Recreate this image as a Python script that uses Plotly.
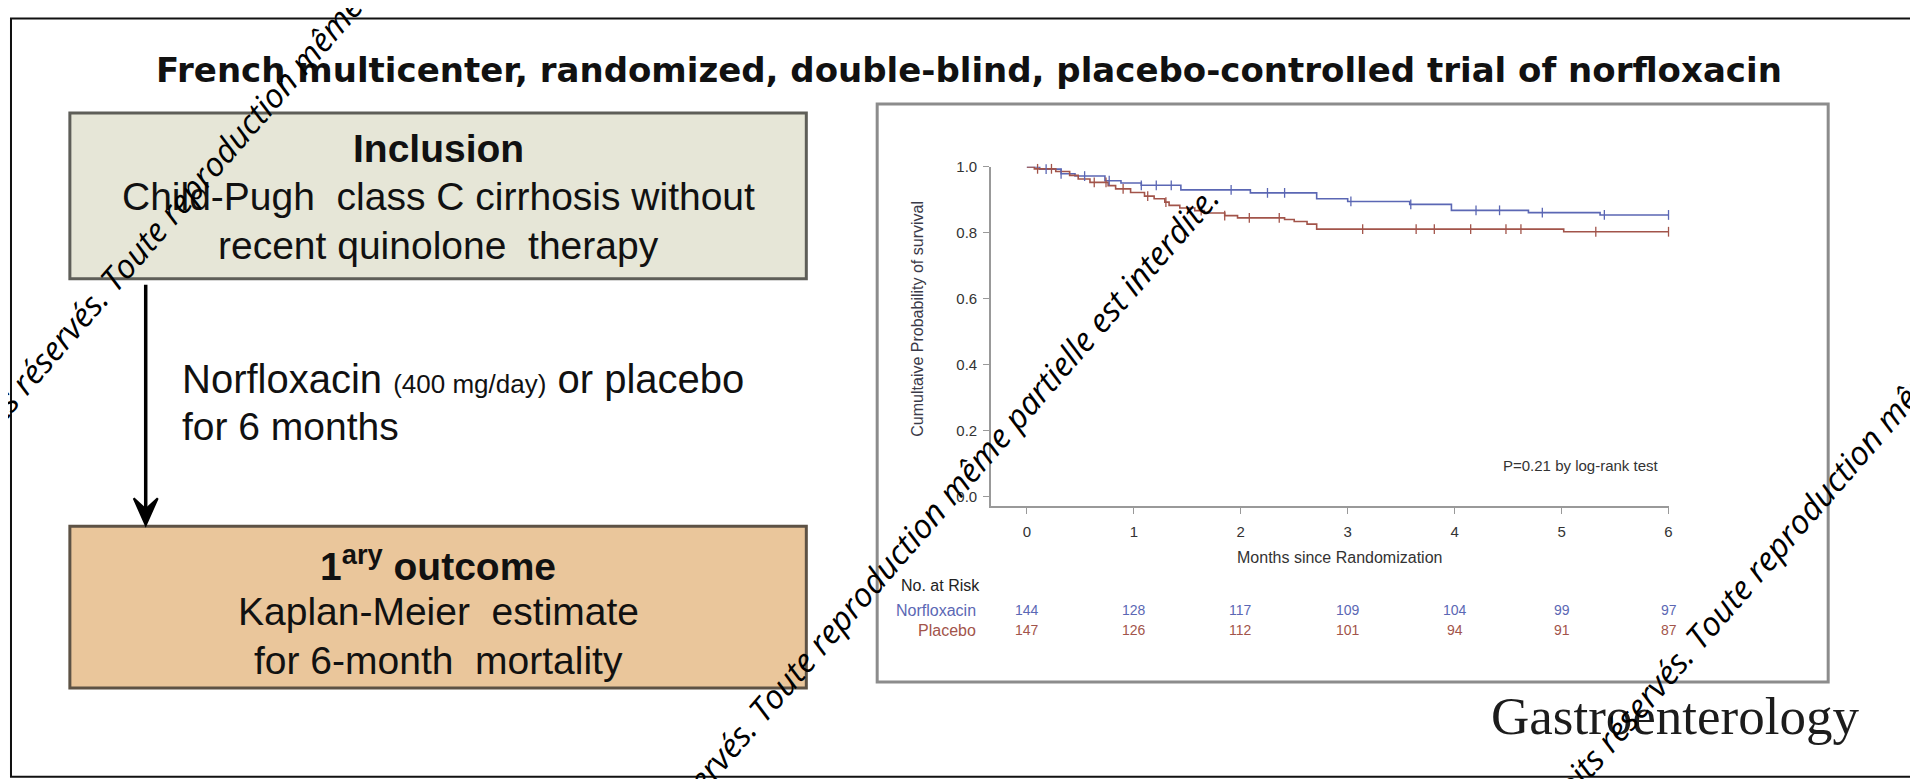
import plotly.graph_objects as go

# ---------------- data ----------------
months = [0, 1, 2, 3, 4, 5, 6]
norf_at_risk = [144, 128, 117, 109, 104, 99, 97]
plac_at_risk = [147, 126, 112, 101, 94, 91, 87]

norf_time = [0, 0.12, 0.32, 0.45, 0.73, 0.88, 1.07, 1.44, 2.09, 2.71, 3.0, 3.58, 3.97, 4.69, 5.36, 6.0]
norf_surv = [1.0, 0.993, 0.979, 0.972, 0.958, 0.951, 0.944, 0.930, 0.921, 0.903, 0.895, 0.886, 0.868, 0.861, 0.854, 0.854]

plac_time = [0, 0.07, 0.27, 0.40, 0.48, 0.59, 0.76, 0.83, 0.97, 1.10, 1.19, 1.29, 1.33, 1.43, 1.57,
             1.66, 1.85, 1.97, 2.41, 2.50, 2.62, 2.71, 5.02, 6.0]
plac_surv = [1.0, 0.994, 0.986, 0.974, 0.963, 0.953, 0.943, 0.933, 0.922, 0.911, 0.903, 0.893, 0.883,
             0.875, 0.867, 0.860, 0.852, 0.845, 0.840, 0.834, 0.826, 0.811, 0.803, 0.803]

norf_cens = [0.18, 0.32, 0.54, 0.77, 1.07, 1.21, 1.35, 1.91, 2.25, 2.41, 3.03, 3.59, 4.20, 4.42, 4.82, 5.40, 6.0]
plac_cens = [0.10, 0.23, 0.63, 0.74, 0.90, 1.13, 1.30, 1.63, 1.85, 2.08, 2.36, 3.14, 3.64, 3.81, 4.15,
             4.48, 4.62, 5.32, 6.0]

y_ticks = [0.0, 0.2, 0.4, 0.6, 0.8, 1.0]
y_ticklabels = ["0.0", "0.2", "0.4", "0.6", "0.8", "1.0"]

title_text = "French multicenter, randomized, double-blind, placebo-controlled trial of norfloxacin"
watermark = "© 2018 Tous droits réservés. Toute reproduction même partielle est interdite."

BLUE = "#5b67b4"
RED = "#a2544a"
W, H = 1918, 779
OFF = 8                      # page body margin (x)
FW, FH = W - OFF, H - OFF
Y0, SY = 15.9, 0.99          # observed vertical placement of the figure on the page
SLIDE_FONT = "Liberation Sans, Arial"
TITLE_FONT = "DejaVu Sans"
R_FONT = "Liberation Sans, Arial"


def step_value(times, surv, t):
    val = surv[0]
    for ti, si in zip(times, surv):
        if ti <= t:
            val = si
    return val


def px_x(p):
    return (p - OFF) / FW


def px_y(p):
    return 1 - (p - Y0) / (SY * FH)


fig = go.Figure()

# KM curves
fig.add_trace(go.Scatter(x=norf_time, y=norf_surv, mode="lines", line=dict(color=BLUE, width=1.6, shape="hv"),
                         xaxis="x2", yaxis="y2", cliponaxis=False, showlegend=False))
fig.add_trace(go.Scatter(x=plac_time, y=plac_surv, mode="lines", line=dict(color=RED, width=1.6, shape="hv"),
                         xaxis="x2", yaxis="y2", cliponaxis=False, showlegend=False))
fig.add_trace(go.Scatter(x=norf_cens, y=[step_value(norf_time, norf_surv, t) for t in norf_cens], mode="markers",
                         marker=dict(symbol="line-ns", size=7, line=dict(color=BLUE, width=1.3)),
                         xaxis="x2", yaxis="y2", cliponaxis=False, showlegend=False))
fig.add_trace(go.Scatter(x=plac_cens, y=[step_value(plac_time, plac_surv, t) for t in plac_cens], mode="markers",
                         marker=dict(symbol="line-ns", size=7, line=dict(color=RED, width=1.3)),
                         xaxis="x2", yaxis="y2", cliponaxis=False, showlegend=False))

# ---------------- shapes (canvas coordinates = page px) ----------------
shapes = [
    dict(type="rect", xref="x", yref="y", x0=11, y0=17.5, x1=1935, y1=777, line=dict(color="#111", width=2),
         layer="below"),
    dict(type="rect", xref="x", yref="y", x0=879, y0=103, x1=1832, y1=682, line=dict(color="#8c8c8c", width=3),
         fillcolor="white", layer="below"),
    dict(type="rect", xref="x", yref="y", x0=70, y0=112, x1=808, y1=278, line=dict(color="#5e5e58", width=3),
         fillcolor="#e6e6d7", layer="below"),
    dict(type="rect", xref="x", yref="y", x0=70, y0=526, x1=808, y1=688, line=dict(color="#5d5245", width=3),
         fillcolor="#eac69b", layer="below"),
    dict(type="line", xref="x", yref="y", x0=146, y0=284, x1=146, y1=520, line=dict(color="black", width=3.5)),
    dict(type="path", xref="x", yref="y", path="M 134 498 L 146 525 L 158 498 L 146 509 Z",
         line=dict(color="black", width=2), fillcolor="black"),
]

ann = []


def txt(x, y, text, size, color="#111", family=SLIDE_FONT, xanchor="center", yanchor="middle",
        xref="x", yref="y", angle=0):
    ann.append(dict(x=x, y=y, xref=xref, yref=yref, text=text, showarrow=False, xanchor=xanchor,
                    yanchor=yanchor, textangle=angle, font=dict(family=family, size=size, color=color)))


# Title
txt(971, 69, "<b>" + title_text + "</b>", 34, family=TITLE_FONT)

# Inclusion box
txt(439, 148, "<b>Inclusion</b>", 39)
txt(439, 196, "Child-Pugh\u00a0 class C cirrhosis without", 39)
txt(439, 245, "recent quinolone\u00a0 therapy", 39)

# Treatment text
txt(180, 379, "Norfloxacin <span style='font-size:26px'>(400 mg/day)</span> or placebo", 40, xanchor="left")
txt(180, 426, "for 6 months", 39, xanchor="left")

# Outcome box
txt(439, 563, "<b>1<sup>ary</sup> outcome</b>", 39)
txt(439, 611, "Kaplan-Meier\u00a0 estimate", 39)
txt(439, 660, "for 6-month\u00a0 mortality", 39)

# KM annotations
txt(919, 318, "Cumultaive Probability of survival", 16, color="#3a3a48", family=R_FONT, angle=-90)
txt(1342, 557, "Months since Randomization", 16, color="#333", family=R_FONT)
txt(5.93, 465, "P=0.21 by log-rank test", 15, color="#333", family=R_FONT, xanchor="right", xref="x2")
txt(6.12, 213, "Norfloxacin", 16, color="#333", family=R_FONT, xanchor="left", xref="x2")
txt(6.12, 236, "Placebo", 16, color="#333", family=R_FONT, xanchor="left", xref="x2")
txt(901, 585, "No. at Risk", 16, color="#222", family=R_FONT, xanchor="left")
txt(980, 610, "Norfloxacin", 16, color=BLUE, family=R_FONT, xanchor="right")
txt(980, 630, "Placebo", 16, color=RED, family=R_FONT, xanchor="right")
for m, n in zip(months, norf_at_risk):
    txt(m, 610, str(n), 14, color=BLUE, family=R_FONT, xref="x2")
for m, n in zip(months, plac_at_risk):
    txt(m, 630, str(n), 14, color=RED, family=R_FONT, xref="x2")

# Journal logo
txt(1678, 716, "Gastroenterology", 53, color="#1c1c1c", family="Liberation Serif, Times New Roman")

# Watermarks
for cx, cy in [(197, 182), (846, 613), (1785, 540)]:
    txt(cx, cy, "<i>" + watermark + "</i>", 33, color="#000", family="Open Sans", angle=-49)

fig.update_layout(
    width=FW, height=FH, margin=dict(l=0, r=0, t=0, b=0),
    paper_bgcolor="white", plot_bgcolor="rgba(0,0,0,0)",
    showlegend=False,
    xaxis=dict(range=[OFF, W], domain=[0, 1], visible=False, fixedrange=True),
    yaxis=dict(range=[Y0 + SY * FH, Y0], domain=[0, 1], visible=False, fixedrange=True),
    xaxis2=dict(domain=[px_x(993), px_x(1672)], range=[-0.336, 6.0], anchor="y2",
                tickvals=months, ticks="outside", ticklen=6, tickcolor="#999", showline=True,
                linecolor="#999", linewidth=1.5, showgrid=False, zeroline=False,
                tickfont=dict(family=R_FONT, size=15, color="#333"), ticklabelstandoff=5),
    yaxis2=dict(domain=[px_y(506), px_y(166)], range=[-0.0303, 1.0], anchor="x2",
                tickvals=y_ticks, ticktext=y_ticklabels, ticks="outside", ticklen=6, tickcolor="#999",
                showline=True, linecolor="#999", linewidth=1.5, showgrid=False, zeroline=False,
                tickfont=dict(family=R_FONT, size=15, color="#333"), ticklabelstandoff=3),
    shapes=shapes,
    annotations=ann,
)

fig.write_html("out.html")
